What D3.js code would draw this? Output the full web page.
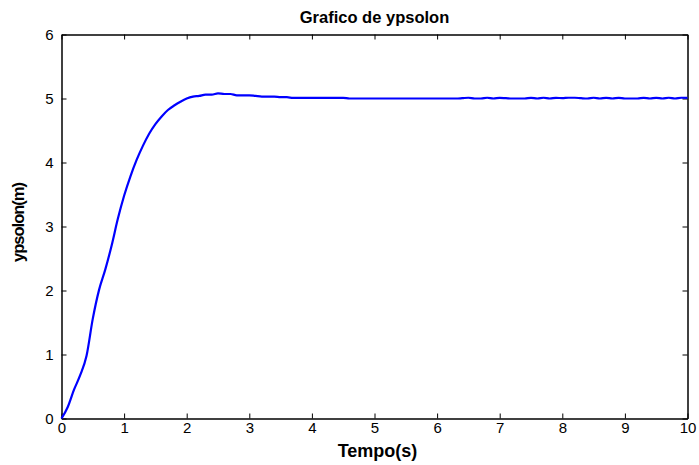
<!DOCTYPE html>
<html><head><meta charset="utf-8">
<script src="https://cdn.jsdelivr.net/npm/d3@7"></script>
<style>body{margin:0;background:#fff}svg{display:block}text{font-family:"Liberation Sans",Arial,sans-serif}</style>
</head><body><svg id="c" width="699" height="465"></svg>
<script>
const timeS = [0,0.1,0.2,0.3,0.4,0.5,0.6,0.7,0.8,0.9,1.0,1.1,1.2,1.3,1.4,1.5,1.6,1.7,1.8,1.9,2.0,2.1,2.2,2.3,2.4,2.5,2.6,2.7,2.8,2.9,3.0,3.1,3.2,3.3,3.4,3.5,3.6,3.7,4.0,4.5,4.6,5.0,5.5,6.0,6.3,6.4,6.5,6.6,6.7,6.8,6.9,7.0,7.1,7.2,7.3,7.4,7.5,7.6,7.7,7.8,7.9,8.0,8.1,8.2,8.3,8.4,8.5,8.6,8.7,8.8,8.9,9.0,9.1,9.2,9.3,9.4,9.5,9.6,9.7,9.8,9.9,10.0];
const ypsolon = [0,0.18,0.45,0.68,0.98,1.56,2.01,2.33,2.70,3.12,3.48,3.78,4.04,4.26,4.45,4.60,4.72,4.82,4.89,4.95,5.00,5.03,5.04,5.06,5.06,5.08,5.07,5.07,5.05,5.05,5.05,5.04,5.03,5.03,5.03,5.02,5.02,5.01,5.01,5.01,5.00,5.00,5.00,5.00,5.00,5.005,5.012,5.0,5.0,5.012,5.0,5.01,5.005,5.0,5.0,5.0,5.01,5.0,5.012,5.0,5.01,5.005,5.012,5.012,5.005,5.0,5.012,5.0,5.01,5.0,5.01,5.0,5.0,5.0,5.01,5.0,5.01,5.0,5.012,5.0,5.012,5.01];
const xTicks = [0,1,2,3,4,5,6,7,8,9,10];
const yTicks = [0,1,2,3,4,5,6];
const titleText = "Grafico de ypsolon";
const xLabel = "Tempo(s)";
const yLabel = "ypsolon(m)";

const svg = d3.select("#c");
const L=61.5, R=687.5, T=34.5, B=418.5;
const x = d3.scaleLinear().domain([0,10]).range([L,R]);
const y = d3.scaleLinear().domain([0,6]).range([B,T]);

const data = timeS.map((t,i)=>({t, v: ypsolon[i]}));

const gx = svg.append("g").attr("transform",`translate(0,${B})`)
  .call(d3.axisBottom(x).tickValues(xTicks).tickFormat(d3.format("d")).tickSizeInner(-5).tickSizeOuter(0).tickPadding(8));
const gxt = svg.append("g").attr("transform",`translate(0,${T})`)
  .call(d3.axisTop(x).tickValues(xTicks).tickFormat("").tickSizeInner(-5).tickSizeOuter(0));
const gy = svg.append("g").attr("transform",`translate(${L},0)`)
  .call(d3.axisLeft(y).tickValues(yTicks).tickFormat(d3.format("d")).tickSizeInner(-5).tickSizeOuter(0).tickPadding(8));
const gyr = svg.append("g").attr("transform",`translate(${R},0)`)
  .call(d3.axisRight(y).tickValues(yTicks).tickFormat("").tickSizeInner(-5).tickSizeOuter(0));
[gx,gxt,gy,gyr].forEach(g=>{
  g.selectAll("path.domain").attr("stroke","#000").attr("stroke-width",1.5);
  g.selectAll(".tick line").attr("stroke","#000").attr("stroke-width",1);
  g.selectAll("text").attr("font-size",15).attr("fill","#000").attr("font-family","Liberation Sans, Arial, sans-serif");
});
gx.selectAll("text").attr("dy","0.71em").attr("y",4);
gy.selectAll("text").attr("dy","0.35em");

svg.append("path").datum(data)
  .attr("fill","none").attr("stroke","#0000ff").attr("stroke-width",2.2).attr("stroke-linejoin","round")
  .attr("d", d3.line().curve(d3.curveMonotoneX).x(d=>x(d.t)).y(d=>y(d.v)));

svg.append("text").attr("x",(L+R)/2).attr("y",23).attr("text-anchor","middle")
  .attr("font-weight","bold").attr("font-size",16.5).text(titleText);
svg.append("text").attr("x",(L+R)/2+3).attr("y",457).attr("text-anchor","middle")
  .attr("font-weight","bold").attr("font-size",18).text(xLabel);
svg.append("text").attr("transform",`translate(24,${(T+B)/2-4}) rotate(-90)`).attr("text-anchor","middle")
  .attr("font-weight","bold").attr("font-size",16.5).attr("letter-spacing",-1).text(yLabel);
</script></body></html>
